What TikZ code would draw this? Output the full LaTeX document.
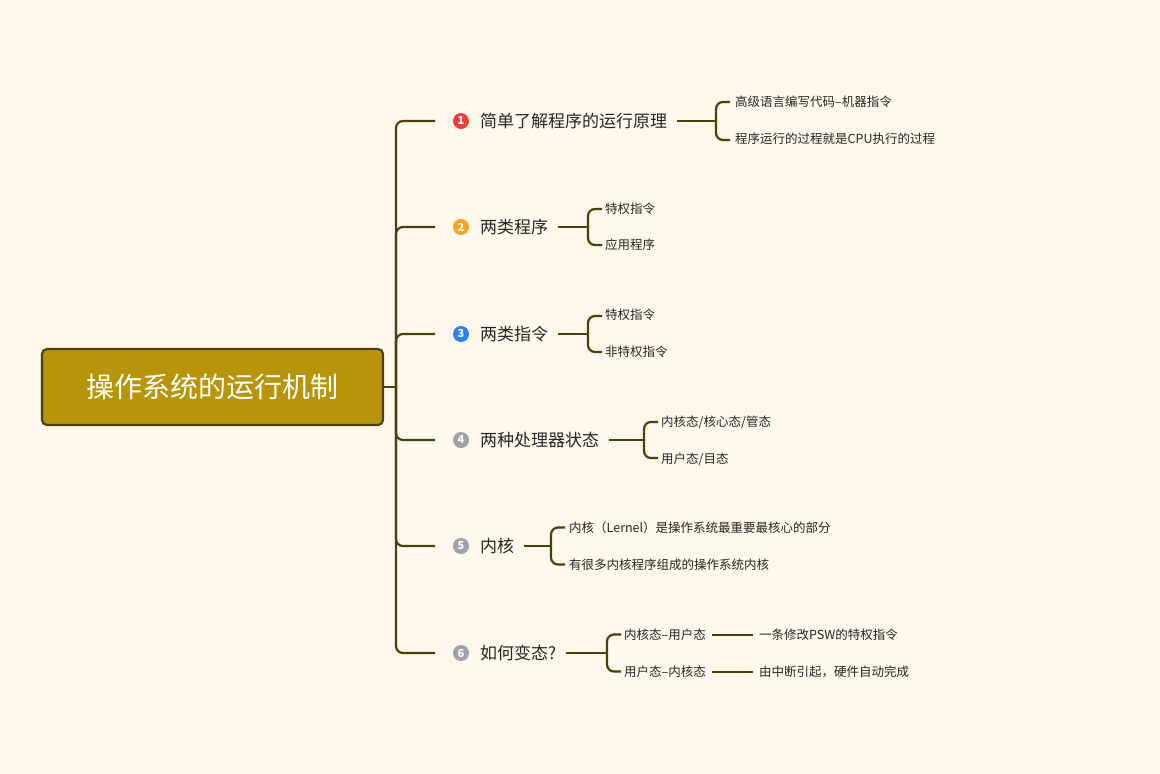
\documentclass[tikz,border=0pt]{standalone}
\usepackage{fontspec}
\setmainfont{Noto Sans CJK SC}
\definecolor{bg}{HTML}{FEF9EC}
\definecolor{ln}{HTML}{4B3F0B}
\definecolor{rootf}{HTML}{B89508}
\definecolor{cr}{HTML}{E8413C}
\definecolor{co}{HTML}{F5A623}
\definecolor{cb}{HTML}{2F80ED}
\definecolor{cg}{HTML}{A0A0A8}
\begin{document}
\begin{tikzpicture}[x=1pt,y=-1pt,
  conn/.style={draw=ln,line width=2.2pt,rounded corners=7pt},
  num/.style={circle,fill=#1,text=white,inner sep=0pt,minimum size=16pt,font=\fontsize{11}{11}\selectfont\bfseries},
  br/.style={anchor=west,inner sep=0pt,text=black!85,font=\fontsize{17}{17}\selectfont},
  leaf/.style={anchor=west,inner sep=0pt,text=black!85,font=\fontsize{12.5}{13}\selectfont}]
\fill[bg] (0,0) rectangle (1160,774);
\useasboundingbox (0,0) rectangle (1160,774);
\node[draw=ln,line width=2.2pt,fill=rootf,rounded corners=5pt,minimum width=341pt,minimum height=76pt,text=white,font=\fontsize{28}{28}\selectfont] (root) at (212.5,387) {操作系统的运行机制};
\coordinate (tr) at (396,387);
\draw[conn] (root.east) -- (tr);
\foreach \i/\y/\c/\t in {1/121/cr/简单了解程序的运行原理,2/227/co/两类程序,3/334/cb/两类指令,4/440/cg/两种处理器状态,5/546/cg/内核,6/653/cg/如何变态?}{
  \node[num=\c] (c\i) at (461,\y) {\i};
  \node[br] (b\i) at (480,\y) {\t};
  \coordinate (e\i) at (435,\y);
  \draw[conn] (tr) |- (e\i);
}
% leaves helper
\newcommand{\brk}[6]{% name, parent, xb, ymid, ytop/ybot half, xleaf
  \coordinate (#1m) at (#3,#4);
  \coordinate (#1t) at (#3+14,#4-#5);
  \coordinate (#1b) at (#3+14,#4+#5);
  \draw[conn] (#2.east)++(10,0) -- (#1m);
  \draw[conn] (#1t) -| (#1m) |- (#1b);
}
\brk{k1}{b1}{716}{121}{19}{}
\node[leaf] (l1a) at (735,102) {高级语言编写代码--机器指令};
\node[leaf] (l1b) at (735,139) {程序运行的过程就是CPU执行的过程};
\brk{k2}{b2}{588}{227}{18}{}
\node[leaf] (l2a) at (605,209) {特权指令};
\node[leaf] (l2b) at (605,245) {应用程序};
\brk{k3}{b3}{588}{334}{18}{}
\node[leaf] (l3a) at (605,315) {特权指令};
\node[leaf] (l3b) at (605,352) {非特权指令};
\brk{k4}{b4}{644}{440}{18}{}
\node[leaf] (l4a) at (661,422) {内核态/核心态/管态};
\node[leaf] (l4b) at (661,459) {用户态/目态};
\brk{k5}{b5}{551}{546}{18.5}{}
\node[leaf] (l5a) at (569,528) {内核（Lernel）是操作系统最重要最核心的部分};
\node[leaf] (l5b) at (569,565) {有很多内核程序组成的操作系统内核};
\brk{k6}{b6}{607}{653}{18.5}{}
\node[leaf] (l6a) at (624,635) {内核态--用户态};
\node[leaf] (l6b) at (624,672) {用户态--内核态};
\node[leaf] (m6a) at (759,635) {一条修改PSW的特权指令};
\node[leaf] (m6b) at (759,672) {由中断引起，硬件自动完成};
\draw[conn] ([xshift=6pt]l6a.east) -- ([xshift=-6pt]m6a.west);
\draw[conn] ([xshift=6pt]l6b.east) -- ([xshift=-6pt]m6b.west);
\end{tikzpicture}
\end{document}
